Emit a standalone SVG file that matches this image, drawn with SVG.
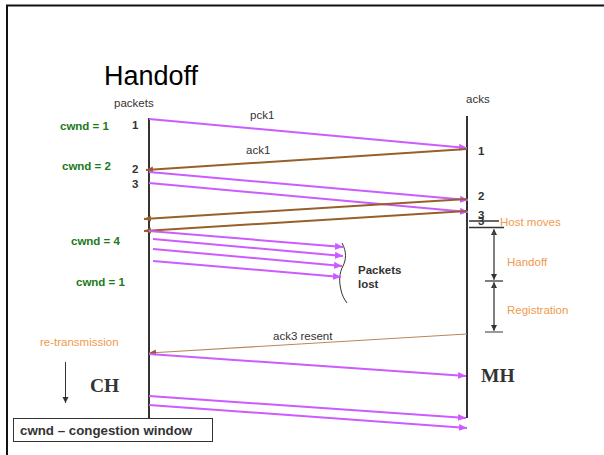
<svg xmlns="http://www.w3.org/2000/svg" width="604" height="455" viewBox="0 0 604 455">
  <style>
    text { font-family: "Liberation Sans", Arial, sans-serif; font-size: 11.5px; fill: #333; }
    .b { font-weight: bold; }
    .cw { font-weight: bold; fill: #1b7a1b; }
    .or { fill: #ef9a4c; }
    .host { font-family: "Liberation Serif", "Times New Roman", serif; font-weight: bold; font-size: 19.5px; fill: #333; }
    .life { stroke: #333; stroke-width: 2; }
    .pk { stroke: #cc5cff; stroke-width: 2; fill: none; }
    .ak { stroke: #97602b; stroke-width: 2; fill: none; }
    .ak-thin { stroke: #b9875a; stroke-width: 1.2; fill: none; }
    .dim { stroke: #555; stroke-width: 1; }
    .tick { stroke: #333; stroke-width: 1.5; }
  </style>
  <defs>
    <marker id="mPk" markerUnits="userSpaceOnUse" markerWidth="9" markerHeight="8" refX="8" refY="4" orient="auto">
      <path d="M0,0.5 L8,4 L0,7.5 Z" fill="#cc5cff"/>
    </marker>
    <marker id="mAk" markerUnits="userSpaceOnUse" markerWidth="8" markerHeight="7" refX="7" refY="3.5" orient="auto">
      <path d="M0,0.5 L7,3.5 L0,6.5 Z" fill="#97602b"/>
    </marker>
    <marker id="mDim" markerUnits="userSpaceOnUse" markerWidth="7" markerHeight="7" refX="6" refY="3" orient="auto">
      <path d="M0,0 L6,3 L0,6 Z" fill="#333"/>
    </marker>
  </defs>

  <!-- frame -->
  <line x1="6" y1="5.5" x2="604" y2="5.5" stroke="#111" stroke-width="2"/>
  <line x1="7" y1="5" x2="7" y2="455" stroke="#111" stroke-width="2"/>

  <text x="104" y="85" style="font-size:27px; fill:#000">Handoff</text>

  <!-- correspondent host (sender) -->
  <g id="ch">
    <line class="life" x1="149" y1="118" x2="149" y2="420"/>
    <text x="114" y="107">packets</text>
    <text class="host" x="90" y="392">CH</text>
  </g>

  <!-- mobile host (receiver) -->
  <g id="mh">
    <line class="life" x1="467" y1="116" x2="467" y2="418"/>
    <text x="466" y="103">acks</text>
    <text class="host" x="481" y="382">MH</text>
  </g>

  <!-- sender side labels -->
  <g id="sender-labels">
    <text class="cw" x="60" y="130">cwnd = 1</text>
    <text class="b" x="132" y="129">1</text>
    <text class="cw" x="62" y="170">cwnd = 2</text>
    <text class="b" x="132" y="173">2</text>
    <text class="b" x="132" y="188">3</text>
    <text class="cw" x="71" y="245">cwnd = 4</text>
    <text class="cw" x="76" y="286">cwnd = 1</text>
    <text class="or" x="40" y="346">re-transmission</text>
    <line x1="65.5" y1="362" x2="65.5" y2="403" stroke="#333" stroke-width="1" marker-end="url(#mDim)"/>
  </g>

  <!-- receiver side labels: acks 3 printed twice where the host moves -->
  <g id="receiver-labels">
    <text class="b" x="478" y="155">1</text>
    <text class="b" x="478" y="200">2</text>
    <text class="b" x="478" y="219">3</text>
    <text class="b" x="478" y="225">3</text>
    <line class="tick" x1="469" y1="221" x2="499" y2="221"/>
    <line class="tick" x1="469" y1="227.5" x2="504" y2="227.5"/>
    <text class="or" x="500" y="226">Host moves</text>
  </g>

  <!-- handoff / registration intervals -->
  <g id="intervals">
    <line class="dim" x1="494" y1="278" x2="494" y2="229" marker-end="url(#mDim)"/>
    <line class="dim" x1="494" y1="232" x2="494" y2="280" marker-end="url(#mDim)"/>
    <line class="tick" x1="485" y1="281" x2="503" y2="281" style="stroke:#555"/>
    <line class="dim" x1="494" y1="330" x2="494" y2="282" marker-end="url(#mDim)"/>
    <line class="dim" x1="494" y1="285" x2="494" y2="331" marker-end="url(#mDim)"/>
    <line class="tick" x1="485" y1="332" x2="503" y2="332" style="stroke:#777"/>
    <text class="or" x="507" y="266">Handoff</text>
    <text class="or" x="507" y="314">Registration</text>
  </g>

  <!-- lost packets -->
  <g id="lost">
    <path d="M342,243 C347,252 346,260 343,266 C339,273 339,282 341,290 C342,295 344,299 347,303" fill="none" stroke="#333" stroke-width="1"/>
    <text class="b" x="358" y="274">Packets</text>
    <text class="b" x="358" y="288">lost</text>
  </g>

  <!-- messages -->
  <g id="connectors">
    <line class="pk" x1="149" y1="119" x2="467" y2="148" marker-end="url(#mPk)"/>
    <line class="ak" x1="467" y1="149" x2="146" y2="170" marker-end="url(#mAk)"/>
    <line class="pk" x1="149" y1="172" x2="468" y2="200" marker-end="url(#mPk)"/>
    <line class="pk" x1="149" y1="183" x2="468" y2="212" marker-end="url(#mPk)"/>
    <line class="ak" x1="467" y1="199" x2="144" y2="219" marker-end="url(#mAk)"/>
    <line class="ak" x1="467" y1="211" x2="144" y2="231" marker-end="url(#mAk)"/>
    <line class="pk" x1="149" y1="231" x2="343" y2="247" marker-end="url(#mPk)"/>
    <line class="pk" x1="153" y1="239" x2="343" y2="256" marker-end="url(#mPk)"/>
    <line class="pk" x1="153" y1="249" x2="342" y2="266" marker-end="url(#mPk)"/>
    <line class="pk" x1="153" y1="261" x2="341" y2="277" marker-end="url(#mPk)"/>
    <line class="ak-thin" x1="467" y1="334" x2="149" y2="353" marker-end="url(#mAk)"/>
    <line class="pk" x1="149" y1="354" x2="466" y2="376" marker-end="url(#mPk)"/>
    <line class="pk" x1="149" y1="396" x2="466" y2="418" marker-end="url(#mPk)"/>
    <line class="pk" x1="149" y1="405" x2="467" y2="428" marker-end="url(#mPk)"/>
    <text x="250" y="119">pck1</text>
    <text x="246" y="154">ack1</text>
    <text x="273" y="340">ack3 resent</text>
  </g>

  <!-- legend -->
  <g id="legend">
    <rect x="13.5" y="418.5" width="199" height="23" fill="#fff" stroke="#333" stroke-width="1"/>
    <text class="b" x="20" y="435" style="font-size:13.3px">cwnd – congestion window</text>
  </g>
</svg>
